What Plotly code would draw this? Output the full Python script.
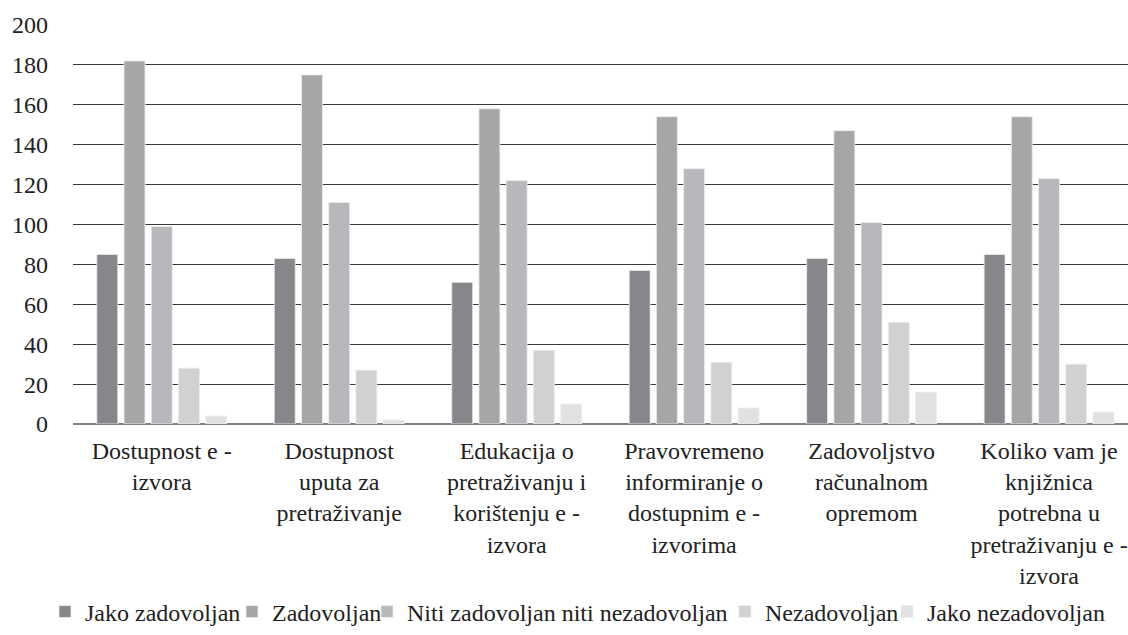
import plotly.graph_objects as go

categories = [
    "Dostupnost e -<br>izvora",
    "Dostupnost<br>uputa za<br>pretraživanje",
    "Edukacija o<br>pretraživanju i<br>korištenju e -<br>izvora",
    "Pravovremeno<br>informiranje o<br>dostupnim e -<br>izvorima",
    "Zadovoljstvo<br>računalnom<br>opremom",
    "Koliko vam je<br>knjižnica<br>potrebna u<br>pretraživanju e -<br>izvora",
]
series_names = ["Jako zadovoljan", "Zadovoljan", "Niti zadovoljan niti nezadovoljan",
                "Nezadovoljan", "Jako nezadovoljan"]
jako_zadovoljan = [85, 83, 71, 77, 83, 85]
zadovoljan = [182, 175, 158, 154, 147, 154]
niti = [99, 111, 122, 128, 101, 123]
nezadovoljan = [28, 27, 37, 31, 51, 30]
jako_nezadovoljan = [4, 2, 10, 8, 16, 6]
y_ticks = [0, 20, 40, 60, 80, 100, 120, 140, 160, 180, 200]

values = [jako_zadovoljan, zadovoljan, niti, nezadovoljan, jako_nezadovoljan]
colors = ["#86878b", "#a5a6a8", "#b7b8bb", "#d0d1d3", "#e0e1e2"]
# left edge (px) of each legend entry text in the reference
legend_text_x = [85, 272, 407, 765, 927]

W, H = 1128, 635
FONT = "Liberation Serif"
FS = 24
TXT = "#222222"

fig = go.Figure()
legend_ids = ["legend"] + [f"legend{i}" for i in range(2, 6)]
for name, vals, col, lid in zip(series_names, values, colors, legend_ids):
    fig.add_trace(go.Bar(
        x=list(range(len(categories))), y=vals, name=name, legend=lid,
        marker=dict(color=col, line=dict(color="#eeeeee", width=0.8)),
    ))

fig.update_layout(
    width=W, height=H,
    margin=dict(l=73, r=0, t=25, b=211),
    paper_bgcolor="white", plot_bgcolor="white",
    font=dict(family=FONT, size=FS, color=TXT),
    barmode="group", bargap=0.233, bargroupgap=0.23,
    showlegend=True,
)
for lid, tx in zip(legend_ids, legend_text_x):
    fig.update_layout({lid: dict(
        orientation="h", xref="container", yref="container",
        x=(tx - 40) / W, xanchor="left", y=1 - 612 / H, yanchor="middle",
        font=dict(family=FONT, size=FS, color=TXT),
        itemwidth=30, bgcolor="rgba(0,0,0,0)", borderwidth=0,
    )})

fig.update_xaxes(
    tickmode="array", tickvals=list(range(len(categories))), ticktext=categories,
    range=[-0.5, 5.445], showgrid=False, showline=False, zeroline=False,
    ticks="", ticklabelstandoff=10, tickangle=0,
    tickfont=dict(family=FONT, size=FS, color=TXT),
)
fig.update_yaxes(
    range=[0, 200], tickmode="array", tickvals=y_ticks,
    showgrid=True, gridcolor="#3a3a3a", gridwidth=1,
    zeroline=True, zerolinecolor="#808080", zerolinewidth=2,
    showline=False, ticks="", ticklabelstandoff=24,
    tickfont=dict(family=FONT, size=FS, color=TXT),
)

fig.write_html(
    "out.html",
    config={"displayModeBar": False},
    post_script="document.body.style.margin='0';document.body.style.padding='0';",
)
